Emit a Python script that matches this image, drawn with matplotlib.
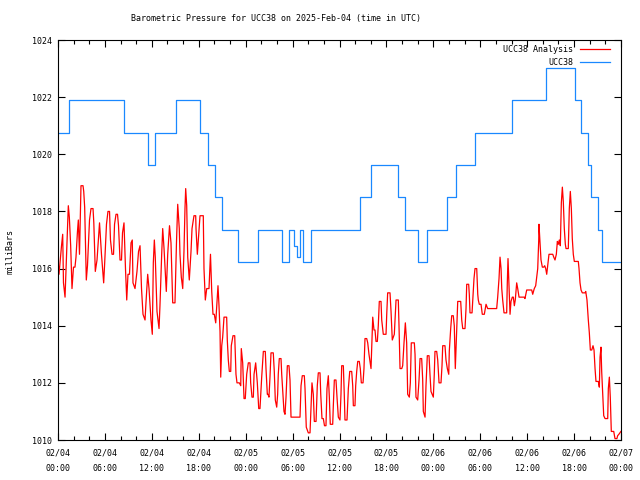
import datetime

import matplotlib
matplotlib.use("Agg")
from matplotlib import pyplot as plt
from matplotlib.ticker import FixedLocator, MultipleLocator

# hours since 2025-02-04 00:00 UTC
analysis_hours = [
    0.00, 0.13, 0.26, 0.45, 0.60, 0.70, 0.90, 1.09, 1.24, 1.32, 1.45, 1.62, 1.79, 1.98, 2.17, 2.30,
    2.49, 2.60, 2.75, 2.94, 3.20, 3.29, 3.41, 3.62, 3.77, 4.03, 4.22, 4.48, 4.58, 4.77, 4.99, 5.31,
    5.56, 5.84, 5.97, 6.20, 6.39, 6.59, 6.71, 6.91, 7.10, 7.23, 7.42, 7.61, 7.74, 7.93, 8.12, 8.25,
    8.44, 8.63, 8.79, 8.95, 9.14, 9.34, 9.50, 9.59, 9.85, 10.10, 10.30, 10.49, 10.68, 10.87, 11.13,
    11.25, 11.47, 11.64, 11.89, 12.06, 12.19, 12.32, 12.44, 12.66, 12.92, 13.04, 13.26, 13.39, 13.56,
    13.85, 14.03, 14.26, 14.45, 14.67, 14.96, 15.15, 15.31, 15.51, 15.60, 15.77, 15.95, 16.11, 16.24,
    16.33, 16.46, 16.59, 16.79, 17.01, 17.14, 17.39, 17.61, 17.65, 17.82, 17.99, 18.16, 18.58, 18.67,
    18.84, 19.02, 19.31, 19.50, 19.66, 19.82, 19.99, 20.17, 20.33, 20.46, 20.59, 20.72, 20.81, 20.94,
    21.06, 21.23, 21.57, 21.65, 21.78, 21.91, 22.09, 22.16, 22.38, 22.60, 22.68, 22.76, 22.89, 23.19,
    23.37, 23.44, 23.62, 23.79, 23.95, 24.13, 24.34, 24.55, 24.64, 24.81, 24.98, 25.07, 25.28, 25.49,
    25.67, 25.83, 26.05, 26.26, 26.51, 26.60, 26.69, 26.77, 26.86, 26.98, 27.11, 27.24, 27.53, 27.66,
    27.79, 27.97, 28.09, 28.17, 28.30, 28.52, 28.61, 28.78, 28.90, 29.03, 29.16, 29.33, 29.54, 29.67,
    29.80, 30.95, 31.08, 31.24, 31.50, 31.59, 31.75, 32.01, 32.23, 32.36, 32.48, 32.65, 32.78, 33.00,
    33.16, 33.29, 33.51, 33.60, 33.76, 33.93, 34.08, 34.27, 34.40, 34.57, 34.70, 34.82, 35.13, 35.21,
    35.34, 35.55, 35.68, 35.85, 36.06, 36.19, 36.28, 36.49, 36.61, 36.70, 36.96, 37.13, 37.31, 37.56,
    37.69, 37.77, 37.98, 38.07, 38.20, 38.33, 38.53, 38.66, 38.79, 39.01, 39.13, 39.26, 39.48, 39.61,
    39.77, 40.03, 40.25, 40.41, 40.54, 40.67, 40.84, 40.96, 41.09, 41.31, 41.40, 41.60, 41.95, 42.04,
    42.16, 42.46, 42.59, 42.75, 42.88, 43.01, 43.23, 43.52, 43.61, 43.74, 43.96, 44.08, 44.25, 44.42,
    44.59, 44.72, 44.93, 45.06, 45.18, 45.57, 45.66, 45.78, 46.00, 46.17, 46.30, 46.51, 46.64, 46.72,
    46.94, 47.06, 47.23, 47.45, 47.57, 47.70, 48.00, 48.12, 48.21, 48.43, 48.56, 48.73, 48.98, 49.11,
    49.20, 49.49, 49.62, 49.79, 49.97, 50.04, 50.22, 50.35, 50.55, 50.68, 50.81, 50.99, 51.12, 51.50,
    51.63, 51.76, 52.05, 52.18, 52.27, 52.52, 52.60, 52.69, 52.95, 53.04, 53.20, 53.33, 53.55, 53.68,
    53.75, 53.88, 54.10, 54.26, 54.52, 54.74, 54.95, 56.10, 56.23, 56.40, 56.53, 56.66, 56.75, 56.87,
    57.04, 57.38, 57.46, 57.55, 57.68, 57.81, 57.93, 58.10, 58.23, 58.36, 58.48, 58.66, 58.79, 58.96,
    59.63, 59.72, 59.94, 60.58, 60.71, 60.91, 61.09, 61.35, 61.48, 61.51, 61.60, 61.77, 61.94, 62.12,
    62.24, 62.37, 62.50, 62.70, 62.79, 63.27, 63.40, 63.56, 63.73, 63.86, 63.98, 64.11, 64.24, 64.37,
    64.50, 64.62, 64.75, 64.88, 64.97, 65.26, 65.39, 65.52, 65.65, 65.77, 65.90, 66.03, 66.54, 66.63,
    66.76, 66.89, 67.05, 67.40, 67.49, 67.65, 67.82, 67.95, 68.08, 68.26, 68.42, 68.55, 68.68, 68.80,
    69.10, 69.23, 69.32, 69.44, 69.53, 69.66, 69.79, 69.96, 70.30, 70.38, 70.51, 70.63, 70.76, 71.07,
    71.23, 71.48, 71.57, 71.73, 71.99,
]
analysis_mb = [
    1016.3, 1015.8, 1016.2, 1016.8, 1017.2, 1015.5, 1015.0, 1016.5, 1017.6, 1018.2, 1017.8, 1016.8, 1015.3, 1016.05, 1016.05, 1016.4,
    1017.3, 1017.7, 1016.5, 1018.9, 1018.9, 1018.7, 1018.15, 1015.6, 1016.1, 1017.7, 1018.1, 1018.1, 1017.6, 1015.9, 1016.3, 1017.6,
    1016.5, 1015.5, 1016.2, 1017.55, 1018.0, 1018.0, 1017.0, 1016.5, 1016.5, 1017.55, 1017.9, 1017.9, 1017.5, 1016.3, 1016.3, 1017.25,
    1017.6, 1016.0, 1014.9, 1015.8, 1015.8, 1016.9, 1017.0, 1015.5, 1015.3, 1015.9, 1016.6, 1016.8, 1015.3, 1014.4, 1014.2,
    1014.8, 1015.8, 1015.3, 1014.2, 1013.7, 1016.2, 1017.0, 1016.4, 1014.5, 1013.9, 1014.7, 1016.5, 1017.4, 1016.7,
    1015.2, 1016.5, 1017.5, 1016.9, 1014.8, 1014.8, 1016.9, 1018.25, 1017.4, 1016.5, 1015.7, 1015.3, 1016.6, 1018.1,
    1018.8, 1018.2, 1016.4, 1015.6, 1016.6, 1017.4, 1017.85, 1017.85, 1017.4, 1016.5, 1017.2, 1017.85, 1017.85, 1016.0,
    1014.9, 1015.3, 1015.3, 1016.5, 1015.2, 1014.4, 1014.4, 1014.1, 1014.8, 1015.4, 1014.7, 1013.8, 1012.2, 1013.3,
    1013.6, 1014.3, 1014.3, 1013.5, 1012.8, 1012.4, 1012.4, 1013.3, 1013.65, 1013.65, 1013.0, 1012.3, 1012.0, 1012.0,
    1011.9, 1013.2, 1012.7, 1011.45, 1011.45, 1012.3, 1012.7, 1012.7, 1012.0, 1011.5, 1011.5, 1012.3, 1012.7, 1012.0,
    1011.1, 1011.1, 1012.2, 1013.1, 1013.1, 1012.5, 1012.0, 1011.6, 1011.6, 1011.5, 1012.2, 1013.05, 1013.05, 1012.4,
    1011.4, 1011.15, 1011.6, 1012.3, 1012.85, 1012.85, 1012.3, 1011.5, 1011.0, 1010.9, 1011.5, 1012.6, 1012.6, 1012.1,
    1010.8, 1010.8, 1011.9, 1012.25, 1012.25, 1011.8, 1010.45, 1010.25, 1010.25, 1011.2, 1012.0, 1011.6, 1010.65, 1010.65,
    1011.9, 1012.35, 1012.35, 1011.6, 1010.75, 1010.75, 1010.5, 1010.5, 1011.8, 1012.25, 1011.5, 1010.55, 1010.55, 1011.2,
    1012.1, 1012.1, 1011.5, 1010.8, 1010.7, 1011.6, 1012.6, 1012.6, 1011.6, 1010.7, 1010.7, 1011.8, 1012.4, 1012.4,
    1011.9, 1011.2, 1011.2, 1011.9, 1012.4, 1012.75, 1012.75, 1012.5, 1012.0, 1012.0, 1012.5, 1013.55, 1013.55, 1013.4,
    1013.0, 1012.5, 1014.3, 1013.85, 1013.85, 1013.45, 1013.45, 1014.0, 1014.85, 1014.85, 1014.2, 1013.7, 1013.7, 1014.4,
    1015.15, 1015.15, 1014.5, 1013.5, 1013.6, 1013.7, 1014.9, 1014.9, 1014.0, 1012.5, 1012.5, 1012.6, 1013.4, 1014.1,
    1013.4, 1011.6, 1011.5, 1012.0, 1013.4, 1013.4, 1013.0, 1011.5, 1011.4, 1012.1, 1012.85, 1012.85, 1012.1, 1011.0,
    1010.8, 1011.9, 1012.95, 1012.95, 1012.3, 1011.7, 1011.5, 1012.3, 1013.1, 1013.1, 1012.8, 1012.0, 1012.0, 1012.6,
    1013.3, 1013.3, 1012.8, 1012.5, 1012.3, 1013.1, 1013.9, 1014.35, 1014.35, 1014.0, 1012.5, 1013.9, 1014.85, 1014.85,
    1014.2, 1013.9, 1013.9, 1014.6, 1015.45, 1015.45, 1015.1, 1014.45, 1014.45, 1014.9, 1015.65, 1016.0, 1016.0, 1015.1,
    1014.9, 1014.75, 1014.75, 1014.4, 1014.4, 1014.75, 1014.6, 1014.6, 1015.0, 1015.65, 1016.4, 1016.0, 1015.3, 1014.9,
    1014.45, 1014.45, 1015.5, 1016.35, 1015.4, 1014.4, 1014.85, 1015.0, 1015.0, 1014.7, 1014.9, 1015.5, 1015.3, 1015.0,
    1015.0, 1014.95, 1015.25, 1015.25, 1015.1, 1015.3, 1015.4, 1016.0, 1017.0, 1017.55, 1017.1, 1016.3, 1016.05, 1016.05,
    1016.1, 1016.0, 1015.8, 1016.3, 1016.5, 1016.5, 1016.4, 1016.3, 1016.5, 1016.95, 1016.85, 1017.0, 1016.8, 1018.3,
    1018.85, 1018.35, 1017.4, 1016.85, 1016.7, 1016.7, 1018.1, 1018.7, 1018.1, 1017.05, 1016.5, 1016.25, 1016.25, 1016.0,
    1015.5, 1015.25, 1015.15, 1015.15, 1015.2, 1014.9, 1014.2, 1013.75, 1013.15, 1013.15, 1013.3, 1013.15, 1012.5, 1012.05,
    1012.05, 1011.85, 1012.9, 1013.25, 1012.4, 1011.6, 1010.85, 1010.75, 1010.75, 1011.8, 1012.2, 1011.5, 1010.3, 1010.3,
    1010.05, 1010.05, 1010.15, 1010.2, 1010.3,
]

# station readings change in steps, hour of each change
station_hours = [
    0.00, 1.41, 8.38, 11.45, 12.41, 15.09, 18.16, 19.18, 20.14, 20.97, 22.96, 25.58, 28.65, 29.48,
    30.18, 30.57, 31.01, 31.33, 32.36, 38.62, 40.03, 43.42, 44.44, 45.98, 47.25, 49.69, 50.96, 53.39,
    58.00, 62.47, 66.18, 66.89, 67.72, 68.16, 69.06, 69.51, 72.00,
]
station_mb = [
    1020.76, 1021.90, 1020.76, 1019.63, 1020.76, 1021.90, 1020.76, 1019.63, 1018.50, 1017.36, 1016.23,
    1017.36, 1016.23, 1017.36, 1016.80, 1016.40, 1017.36, 1016.23, 1017.36, 1018.50, 1019.63, 1018.50,
    1017.36, 1016.23, 1017.36, 1018.50, 1019.63, 1020.76, 1021.90, 1023.03, 1021.90, 1020.76, 1019.63,
    1018.50, 1017.36, 1016.23, 1016.23,
]

start = datetime.datetime(2025, 2, 4, 0, 0)
tick_hours = list(range(0, 73, 6))
tick_labels = [(start + datetime.timedelta(hours=h)).strftime("%m/%d\n%H:%M") for h in tick_hours]

font = "DejaVu Sans Mono"
fs = 6.0

fig = plt.figure(figsize=(6.4, 4.8), dpi=100)
ax = fig.add_axes([58 / 640, 40 / 480, 563 / 640, 400 / 480])

ax.plot(analysis_hours, analysis_mb, color="#ff0000", lw=0.9, label="UCC38 Analysis")
ax.plot(station_hours, station_mb, color="#1a88ff", lw=0.9, drawstyle="steps-post", label="UCC38")

ax.set_xlim(0, 72)
ax.set_ylim(1010, 1024)
ax.xaxis.set_major_locator(FixedLocator(tick_hours))
ax.set_xticklabels(tick_labels, fontfamily=font, fontsize=fs, linespacing=2.0)
ax.xaxis.set_minor_locator(MultipleLocator(2))
ax.yaxis.set_major_locator(MultipleLocator(2))
for lbl in ax.get_yticklabels():
    lbl.set_fontfamily(font)
    lbl.set_fontsize(fs)

ax.tick_params(which="both", direction="in", top=True, right=True, width=0.8)
ax.tick_params(which="major", length=5)
ax.tick_params(which="minor", length=3)
ax.tick_params(axis="y", pad=4)
ax.tick_params(axis="x", pad=6)
for s in ax.spines.values():
    s.set_linewidth(0.8)

ax.set_ylabel("milliBars", fontfamily=font, fontsize=fs)
ax.yaxis.set_label_coords(-0.077, 0.47)

leg = ax.legend(loc="upper right", bbox_to_anchor=(0.9805, 0.9875), frameon=False,
                markerfirst=False, prop={"family": font, "size": fs}, handlelength=3.6,
                handletextpad=0.8, labelspacing=0.5, borderaxespad=0, borderpad=0)

fig.text(276 / 640, 1 - 19 / 480, "Barometric Pressure for UCC38 on 2025-Feb-04 (time in UTC)",
         ha="center", va="center", fontfamily=font, fontsize=fs)

fig.savefig("out.png", dpi=100)
